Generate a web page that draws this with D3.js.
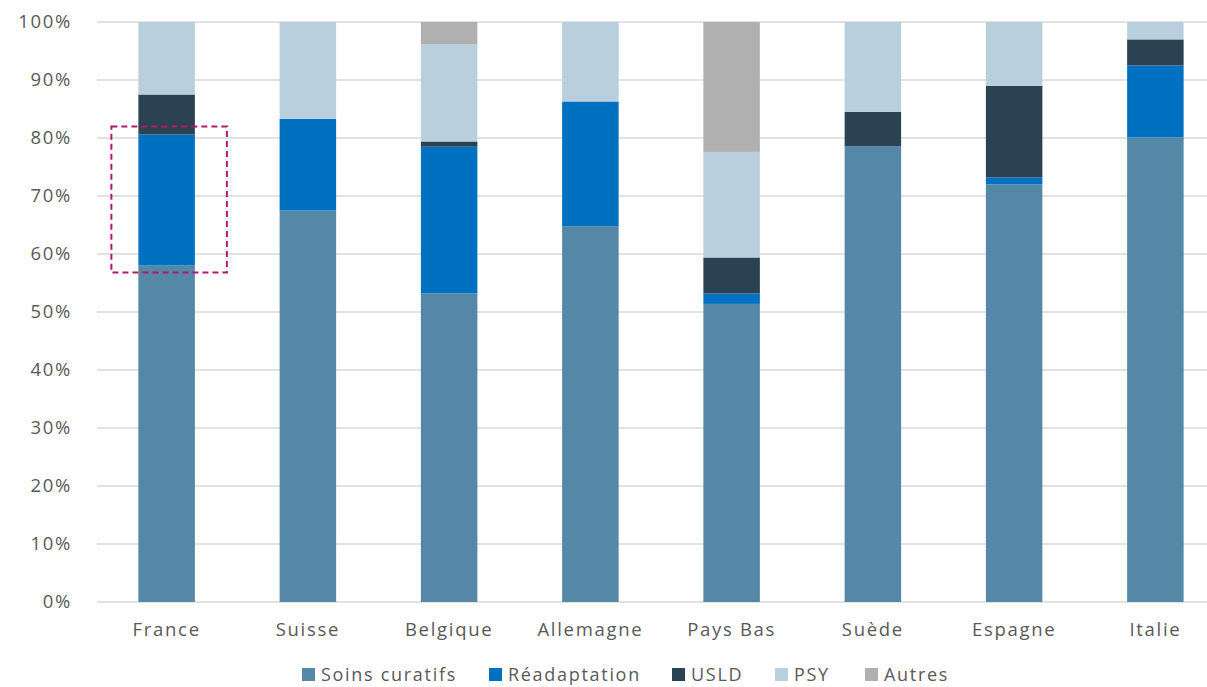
<!DOCTYPE html>
<html>
<head>
<meta charset="utf-8">
<script src="https://cdn.jsdelivr.net/npm/d3@7"></script>
<style>
  body { margin: 0; background: #fff; }
  text { font-family: "Open Sans", sans-serif; fill: #595959; letter-spacing: 1.7px; }
</style>
</head>
<body>
<svg id="chart" width="1207" height="687"></svg>
<script>
/* data (% of beds) */
var countries = ["France", "Suisse", "Belgique", "Allemagne", "Pays Bas", "Suède", "Espagne", "Italie"];
var series = ["Soins curatifs", "Réadaptation", "USLD", "PSY", "Autres"];
var soins   = [58.0, 67.5, 53.2, 64.8, 51.4, 78.6, 72.0, 80.1];
var readapt = [22.6, 15.8, 25.3, 21.5,  1.8,  0.0,  1.2, 12.4];
var usld    = [ 6.9,  0.0,  0.9,  0.0,  6.2,  5.9, 15.8,  4.5];
var psy     = [12.5, 16.7, 16.8, 13.7, 18.2, 15.5, 11.0,  3.0];
var autres  = [ 0.0,  0.0,  3.8,  0.0, 22.4,  0.0,  0.0,  0.0];
var yTicks = [0, 10, 20, 30, 40, 50, 60, 70, 80, 90, 100];
var colors = ["#5587a6", "#0070c0", "#2b4252", "#b9cfdd", "#b0b0b0"];

var table = countries.map(function(c, i) {
	return { pays: c, "Soins curatifs": soins[i], "Réadaptation": readapt[i],
		"USLD": usld[i], "PSY": psy[i], "Autres": autres[i] };
});

var svg = d3.select("#chart");

var x = d3.scaleBand()
	.domain(countries)
	.range([96, 1226])
	.paddingInner(0.6)
	.paddingOuter(0.3);
var y = d3.scaleLinear()
	.domain([0, 100])
	.range([602, 22]);
var color = d3.scaleOrdinal().domain(series).range(colors);

/*Gridlines*/
svg.append("g")
	.selectAll("line")
	.data(yTicks)
	.join("line")
	.attr("x1", 97).attr("x2", 1207)
	.attr("y1", function(d) { return y(d); })
	.attr("y2", function(d) { return y(d); })
	.attr("stroke", "#d9d9d9")
	.attr("stroke-width", 1.5);

/*Y axis labels*/
var yAxis = svg.append("g")
	.attr("transform", "translate(84,0)")
	.call(d3.axisLeft(y).tickValues(yTicks).tickSize(0).tickPadding(12)
		.tickFormat(function(d) { return d + "%"; }));
yAxis.select(".domain").remove();
yAxis.selectAll("text")
	.style("font-size", "18.5px")
	.attr("fill", "#595959");

/*Stacked bars*/
var stacked = d3.stack().keys(series)(table);

svg.append("g")
	.selectAll("g")
	.data(stacked)
	.join("g")
	.attr("fill", function(d) { return color(d.key); })
	.selectAll("rect")
	.data(function(d) { return d; })
	.join("rect")
	.attr("x", function(d) { return x(d.data.pays); })
	.attr("width", x.bandwidth())
	.attr("y", function(d) { return y(d[1]); })
	.attr("height", function(d) { return y(d[0]) - y(d[1]); });

/*X axis labels*/
var xAxis = svg.append("g")
	.attr("transform", "translate(0,602)")
	.call(d3.axisBottom(x).tickSize(0).tickPadding(21));
xAxis.select(".domain").remove();
xAxis.selectAll("text")
	.style("font-size", "18.5px")
	.attr("fill", "#595959");

/*Dashed box round France Réadaptation*/
var fr = stacked[1][0];
svg.append("rect")
	.attr("x", x("France") - 27)
	.attr("y", y(fr[1]) - 8)
	.attr("width", x.bandwidth() + 59)
	.attr("height", y(fr[0]) - y(fr[1]) + 15)
	.attr("fill", "none")
	.attr("stroke", "#b5166f")
	.attr("stroke-width", 2)
	.attr("stroke-dasharray", "6,4");

/*Legend*/
var legendX = [302, 489, 672, 775, 865];
var legend = svg.append("g")
	.selectAll("g")
	.data(series)
	.join("g")
	.attr("transform", function(d, i) { return "translate(" + legendX[i] + ",668)"; });
legend.append("rect")
	.attr("width", 13).attr("height", 13)
	.attr("fill", function(d) { return color(d); });
legend.append("text")
	.attr("x", 19).attr("y", 7).attr("dy", "0.35em")
	.style("font-size", "18px")
	.text(function(d) { return d; });
</script>
</body>
</html>
